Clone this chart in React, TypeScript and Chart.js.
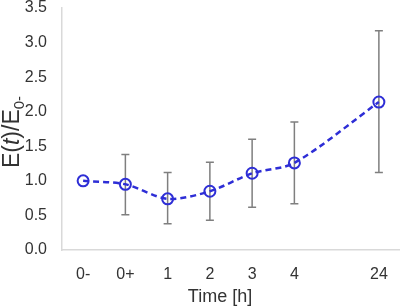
import React, { useEffect, useRef } from "react";
import { Chart, registerables } from "chart.js";

Chart.register(...registerables);

const categories = ["0-", "0+", "1", "2", "3", "4", "24"];
const xPositions = [0, 1, 2, 3, 4, 5, 7];
const means = [1.0, 0.95, 0.74, 0.85, 1.11, 1.26, 2.14];
const upper = [null, 1.38, 1.12, 1.27, 1.6, 1.85, 3.17];
const lower = [null, 0.51, 0.38, 0.43, 0.62, 0.67, 1.12];
const yTicks = [0, 0.5, 1, 1.5, 2, 2.5, 3, 3.5];

const FONT = "'Liberation Sans', Arial, sans-serif";
const TEXT = "#333333";
const BLUE = "#2e2ed6";

const errorBarPlugin = {
  id: "errorBars",
  beforeDatasetsDraw(chart: any) {
    const { ctx, scales } = chart;
    const xs = scales.x;
    const ys = scales.y;
    ctx.save();
    ctx.strokeStyle = "#7f7f7f";
    ctx.lineWidth = 1.5;
    for (let i = 0; i < xPositions.length; i++) {
      const hi = upper[i];
      const lo = lower[i];
      if (hi == null || lo == null) continue;
      const x = xs.getPixelForValue(xPositions[i]);
      const yh = ys.getPixelForValue(hi);
      const yl = ys.getPixelForValue(lo);
      const cap = 4;
      ctx.beginPath();
      ctx.moveTo(x, yh);
      ctx.lineTo(x, yl);
      ctx.moveTo(x - cap, yh);
      ctx.lineTo(x + cap, yh);
      ctx.moveTo(x - cap, yl);
      ctx.lineTo(x + cap, yl);
      ctx.stroke();
    }
    ctx.restore();
  },
};

const titlePlugin = {
  id: "titles",
  afterDraw(chart: any) {
    const { ctx } = chart;
    ctx.save();
    ctx.fillStyle = TEXT;
    // x title
    ctx.font = `18px ${FONT}`;
    ctx.textAlign = "center";
    ctx.textBaseline = "middle";
    ctx.fillText("Time [h]", 220, 297);

    // y title: E(t)/E0-
    const mainSize = 23;
    const subSize = 15;
    const parts = [
      { t: "E(", f: `${mainSize}px ${FONT}`, dy: 0 },
      { t: "t", f: `italic ${mainSize}px ${FONT}`, dy: 0 },
      { t: ")/E", f: `${mainSize}px ${FONT}`, dy: 0 },
      { t: "0-", f: `${subSize}px ${FONT}`, dy: 5 },
    ];
    let total = 0;
    for (const p of parts) {
      ctx.font = p.f;
      total += ctx.measureText(p.t).width;
    }
    ctx.translate(11, 132);
    ctx.rotate(-Math.PI / 2);
    ctx.textAlign = "left";
    ctx.textBaseline = "alphabetic";
    let cx = -total / 2;
    const base = (mainSize * 0.716) / 2;
    for (const p of parts) {
      ctx.font = p.f;
      ctx.fillText(p.t, cx, base + p.dy);
      cx += ctx.measureText(p.t).width;
    }
    ctx.restore();
  },
};

export default function App() {
  const ref = useRef<HTMLCanvasElement | null>(null);

  useEffect(() => {
    if (!ref.current) return;
    const chart = new Chart(ref.current, {
      type: "line",
      data: {
        datasets: [
          {
            data: xPositions.map((x, i) => ({ x, y: means[i] })),
            borderColor: BLUE,
            borderWidth: 2.5,
            borderDash: [6, 4],
            tension: 0.3,
            pointRadius: 5.5,
            pointBorderWidth: 2,
            pointBackgroundColor: "rgba(0,0,0,0)",
            pointBorderColor: BLUE,
            fill: false,
          },
        ],
      },
      options: {
        responsive: false,
        animation: false,
        layout: { autoPadding: false, padding: { top: 8, right: 0, left: 0, bottom: 0 } },
        plugins: {
          legend: { display: false },
          tooltip: { enabled: false },
          title: { display: false },
        },
        scales: {
          x: {
            type: "linear",
            min: -0.5,
            max: 7.5,
            grid: { display: false, drawTicks: false },
            border: { display: true, color: "#d9d9d9", width: 1.5 },
            afterBuildTicks: (scale: any) => {
              scale.ticks = xPositions.map((v) => ({ value: v }));
            },
            afterFit: (scale: any) => {
              scale.height = 58;
              scale.paddingLeft = 0;
              scale.paddingRight = 0;
            },
            ticks: {
              autoSkip: false,
              maxRotation: 0,
              padding: 15,
              color: TEXT,
              font: { family: FONT, size: 16 },
              callback: (v: any) => {
                const i = xPositions.indexOf(Number(v));
                return i >= 0 ? categories[i] : "";
              },
            },
          },
          y: {
            type: "linear",
            min: 0,
            max: 3.5,
            grid: { display: false, drawTicks: false },
            border: { display: true, color: "#d9d9d9", width: 1.5 },
            afterBuildTicks: (scale: any) => {
              scale.ticks = yTicks.map((v) => ({ value: v }));
            },
            afterFit: (scale: any) => {
              scale.width = 62;
              scale.paddingTop = 0;
              scale.paddingBottom = 0;
            },
            ticks: {
              padding: 15,
              color: TEXT,
              font: { family: FONT, size: 16 },
              callback: (v: any) => Number(v).toFixed(1),
            },
          },
        },
      },
      plugins: [errorBarPlugin, titlePlugin],
    });
    return () => chart.destroy();
  }, []);

  return (
    <div style={{ position: "absolute", left: 0, top: 0, width: 400, height: 308, background: "#fff" }}>
      <canvas ref={ref} width={400} height={308} />
    </div>
  );
}
